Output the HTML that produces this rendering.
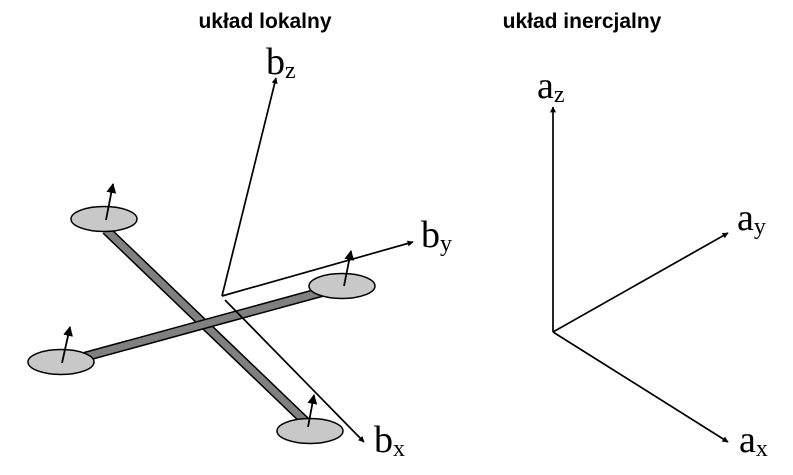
<!DOCTYPE html>
<html><head><meta charset="utf-8"><style>
html,body{margin:0;padding:0;background:#fff;width:793px;height:475px;overflow:hidden}
svg{display:block}
.t{font-family:"Liberation Sans",sans-serif;font-weight:bold;font-size:21px}
.l{font-family:"Liberation Serif",serif;font-size:38px}
.s{font-size:24px}
</style></head><body>
<svg width="793" height="475" viewBox="0 0 793 475">
<defs><marker id="ah" viewBox="0 0 10 10" refX="9" refY="5" markerWidth="7" markerHeight="6" markerUnits="userSpaceOnUse" orient="auto"><path d="M0,0L10,5L0,10z" fill="#000"/></marker>
<marker id="ah" viewBox="0 0 10 10" refX="9" refY="5" markerWidth="6" markerHeight="6" orient="auto"><path d="M0,0L10,5L0,10z" fill="#000"/></marker>
<marker id="ah2" viewBox="0 0 10 10" refX="9" refY="5" markerWidth="5.5" markerHeight="5.5" orient="auto"><path d="M0,0L10,5L0,10z" fill="#000"/></marker></defs>
<text class="t" x="265" y="28" text-anchor="middle">układ lokalny</text>
<text class="t" x="582" y="28" text-anchor="middle">układ inercjalny</text>
<g>
<line x1="106" y1="230" x2="306" y2="422" stroke="#000" stroke-width="10"/>
<line x1="106" y1="230" x2="306" y2="422" stroke="#808080" stroke-width="7"/>
<line x1="84" y1="357" x2="322" y2="292" stroke="#000" stroke-width="10"/>
<line x1="84" y1="357" x2="322" y2="292" stroke="#808080" stroke-width="7"/>
<ellipse cx="104" cy="219" rx="33" ry="12.5" fill="#c8c8c8" stroke="#000" stroke-width="1.5"/>
<ellipse cx="342" cy="286" rx="33" ry="12.5" fill="#c8c8c8" stroke="#000" stroke-width="1.5"/>
<ellipse cx="61" cy="362" rx="33" ry="12.5" fill="#c8c8c8" stroke="#000" stroke-width="1.5"/>
<ellipse cx="310" cy="431" rx="33" ry="12.5" fill="#c8c8c8" stroke="#000" stroke-width="1.5"/>
<g stroke="#000" stroke-width="1.8" marker-end="url(#ah2)">
<line x1="106" y1="220" x2="113" y2="184"/>
<line x1="344" y1="286" x2="351" y2="251"/>
<line x1="62" y1="363" x2="70" y2="327"/>
<line x1="308" y1="427" x2="314" y2="395"/>
</g></g>
<g stroke="#000" stroke-width="1.7" marker-end="url(#ah)">
<line x1="222" y1="296" x2="276" y2="78"/>
<line x1="222" y1="296" x2="413" y2="242"/>
<line x1="225" y1="300" x2="364" y2="442"/>
</g>
<g stroke="#000" stroke-width="1.7" marker-end="url(#ah)">
<line x1="553" y1="332" x2="553" y2="107"/>
<line x1="553" y1="332" x2="728" y2="233"/>
<line x1="553" y1="332" x2="728" y2="442"/>
</g>
<text class="l" x="266" y="74">b<tspan class="s" dy="4">z</tspan></text>
<text class="l" x="421" y="247">b<tspan class="s" dy="4">y</tspan></text>
<text class="l" x="374" y="452">b<tspan class="s" dy="4">x</tspan></text>
<text class="l" x="537" y="98">a<tspan class="s" dy="4">z</tspan></text>
<text class="l" x="737" y="230">a<tspan class="s" dy="4">y</tspan></text>
<text class="l" x="739" y="452">a<tspan class="s" dy="4">x</tspan></text>
</svg>
</body></html>
